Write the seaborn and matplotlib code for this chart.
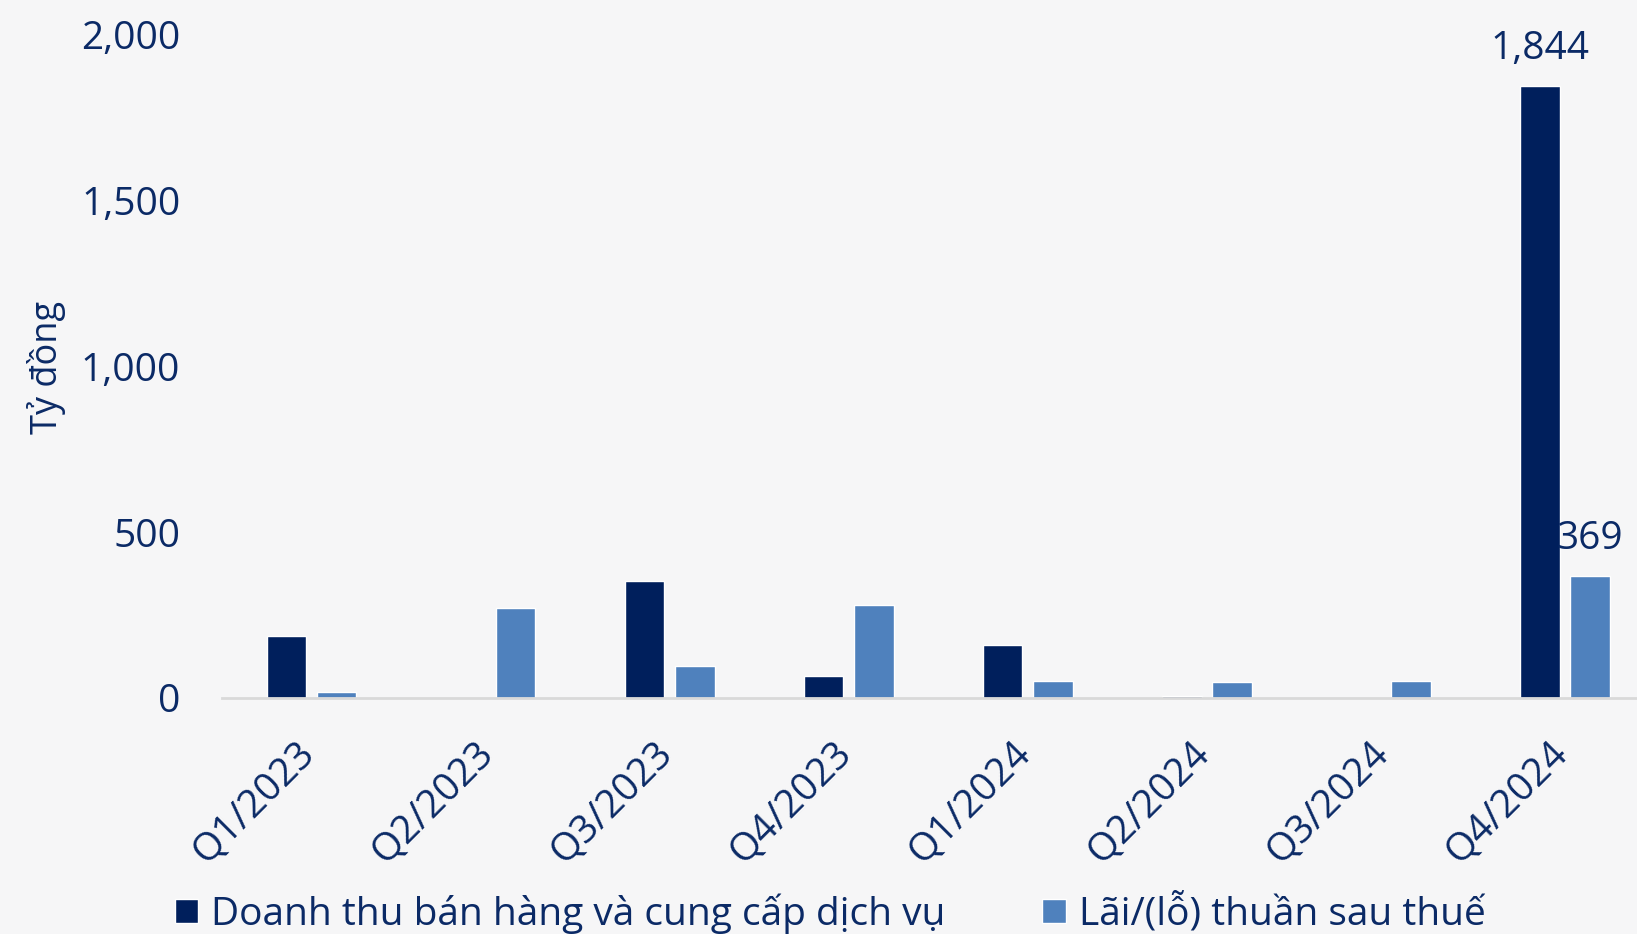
import matplotlib
matplotlib.use("Agg")
import matplotlib.pyplot as plt
import matplotlib.transforms as mtransforms
import seaborn as sns
import pandas as pd

quarters = ["Q1/2023", "Q2/2023", "Q3/2023", "Q4/2023",
            "Q1/2024", "Q2/2024", "Q3/2024", "Q4/2024"]
revenue = [188, 1, 352, 66, 161, 6, 1, 1844]
net_profit = [18, 272, 97, 280, 52, 48, 50, 369]
series_names = ["Doanh thu bán hàng và cung cấp dịch vụ", "Lãi/(lỗ) thuần sau thuế"]
y_ticks = [0, 500, 1000, 1500, 2000]
y_label = "Tỷ đồng"

TEXT = "#0b2a66"
DARK = "#001f5c"
LIGHT = "#4f81bd"
BG = "#f6f6f7"

df = pd.DataFrame({
    "quarter": quarters * 2,
    "value": revenue + net_profit,
    "series": [series_names[0]] * len(quarters) + [series_names[1]] * len(quarters),
})

sns.set_theme(style="white")
plt.rcParams["font.family"] = ["Open Sans", "DejaVu Sans"]

fig = plt.figure(figsize=(16.37, 9.34), dpi=100, facecolor=BG)
ax = fig.add_axes([0.1356, 0.2527, 0.875, 0.7103])
ax.set_facecolor("none")

sns.barplot(data=df, x="quarter", y="value", hue="series", order=quarters,
            hue_order=series_names, palette=[DARK, LIGHT], width=0.56, gap=0.207,
            ax=ax, saturation=1)

FS = 28
ax.set_ylim(0, 2000)
ax.set_xlim(-0.5, len(quarters) - 0.5)
ax.set_yticks(y_ticks)
ax.set_yticklabels([f"{v:,}" for v in y_ticks])
ax.tick_params(axis="y", length=0, pad=30, labelsize=FS, labelcolor=TEXT)
ax.tick_params(axis="x", length=0, pad=26, labelsize=FS, labelcolor=TEXT)
shift = mtransforms.ScaledTranslation(0.11, 0, fig.dpi_scale_trans)
for lab in ax.get_xticklabels():
    lab.set_rotation(45)
    lab.set_ha("right")
    lab.set_transform(lab.get_transform() + shift)
ax.set_xlabel("")
ax.set_ylabel("")
for s in ["left", "right", "top"]:
    ax.spines[s].set_visible(False)
ax.spines["bottom"].set_color("#d9d9d9")
ax.spines["bottom"].set_linewidth(2)

for cont, vals in zip(ax.containers, [revenue, net_profit]):
    labels = [""] * (len(vals) - 1) + [f"{vals[-1]:,}"]
    ax.bar_label(cont, labels=labels, padding=13, fontsize=FS, color=TEXT)

fig.text(47 / 1637, 1 - 367 / 934, y_label, rotation=90, ha="center", va="center",
         fontsize=26, color=TEXT)

sns.move_legend(ax, "center", bbox_to_anchor=(0.507, 0.022), bbox_transform=fig.transFigure,
                ncol=2, frameon=False, title=None, fontsize=FS, labelcolor=TEXT,
                handlelength=0.6, handleheight=0.6, handletextpad=0.33, columnspacing=2.5)

fig.savefig("out.png", dpi=100, facecolor=BG)
